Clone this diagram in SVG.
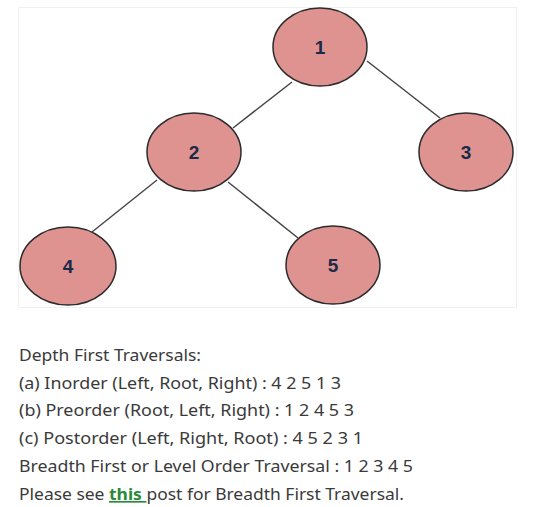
<svg xmlns="http://www.w3.org/2000/svg" width="559" height="507" viewBox="0 0 559 507">
<style>
.node ellipse{fill:#df9391;stroke:#2b2b2b;stroke-width:1.5}
.node text{font-family:"Liberation Sans",Arial,sans-serif;font-weight:bold;font-size:19px;fill:#1c2a48;text-anchor:middle}
.edges line{stroke:#444;stroke-width:1.5}
.t{font-family:"Noto Sans","Liberation Sans",Arial,sans-serif;font-size:16.5px;fill:#3a3a3a}
.link{fill:#2a8a3a;font-weight:bold;text-decoration:underline}
</style>
<rect width="559" height="507" fill="#ffffff"/>
<rect x="18.5" y="7.5" width="498" height="300" fill="#ffffff" stroke="#f0f0f0" stroke-width="1"/>
<g class="edges">
<line x1="292" y1="82" x2="233" y2="128"/>
<line x1="367" y1="61" x2="440" y2="118"/>
<line x1="157" y1="180" x2="92" y2="232"/>
<line x1="228" y1="182" x2="298" y2="238"/>
</g>
<g class="node" id="n1"><ellipse cx="320" cy="47" rx="47" ry="39"/><text x="320" y="54">1</text></g>
<g class="node" id="n2"><ellipse cx="194" cy="152" rx="47" ry="39"/><text x="194" y="159">2</text></g>
<g class="node" id="n3"><ellipse cx="466" cy="152" rx="47" ry="39"/><text x="466" y="159">3</text></g>
<g class="node" id="n4"><ellipse cx="68" cy="266" rx="48" ry="39"/><text x="68" y="273">4</text></g>
<g class="node" id="n5"><ellipse cx="333" cy="265" rx="47" ry="39"/><text x="333" y="272">5</text></g>
<g id="caption">
<text class="t" x="19" y="361" textLength="182" lengthAdjust="spacingAndGlyphs">Depth First Traversals:</text>
<text class="t" x="19" y="389" textLength="322" lengthAdjust="spacingAndGlyphs">(a) Inorder (Left, Root, Right) : 4 2 5 1 3</text>
<text class="t" x="19" y="416" textLength="335" lengthAdjust="spacingAndGlyphs">(b) Preorder (Root, Left, Right) : 1 2 4 5 3</text>
<text class="t" x="19" y="444" textLength="344" lengthAdjust="spacingAndGlyphs">(c) Postorder (Left, Right, Root) : 4 5 2 3 1</text>
<text class="t" x="19" y="472" textLength="394" lengthAdjust="spacingAndGlyphs">Breadth First or Level Order Traversal : 1 2 3 4 5</text>
<text class="t" x="19" y="500" textLength="385" lengthAdjust="spacingAndGlyphs">Please see <tspan class="link">this </tspan>post for Breadth First Traversal.</text>
</g>
</svg>
